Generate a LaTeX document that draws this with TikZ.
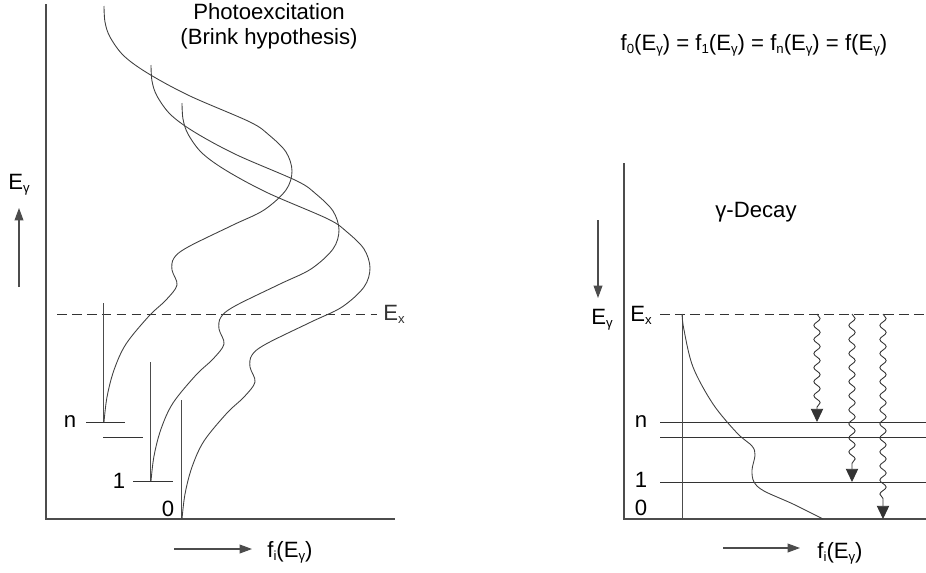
\documentclass[tikz,border=0pt]{standalone}
\usepackage{fontspec}
\setmainfont{Liberation Sans}
\usetikzlibrary{arrows.meta,decorations.pathmorphing}

\newcommand{\sbs}[1]{\raisebox{-1.8pt}{\fontsize{7.5}{8}\selectfont #1}}

\begin{document}
\begin{tikzpicture}[x=0.02cm, y=-0.02cm, >={Triangle[length=7pt,width=5pt]},
		font=\fontsize{12.6}{14.2}\selectfont,
		axis/.style={black!70, line width=0.6pt},
		curve/.style={black!75, line width=0.5pt},
		level/.style={black!80, line width=0.55pt},
		excite/.style={black!80, line width=0.55pt, dash pattern=on 5.5pt off 3pt},
		gamma/.style={black!80, line width=0.5pt, -{Triangle[length=7.5pt,width=7pt]},
			decorate, decoration={snake, amplitude=1.8pt, segment length=8pt, post length=8pt}}]
		\useasboundingbox (0,0) rectangle (926,572);

		% Photoexcitation panel
		\draw[axis] (46,4) -- (46,519) -- (395,519);
		\node (titleA) at (269,26) [align=center] {Photoexcitation\\(Brink hypothesis)};
		\node (EgA) at (19,185) {E\sbs{γ}};
		\coordinate (upA) at (19,287);
		\coordinate (upB) at (19,208);
		\draw[axis, ->] (upA) -- (upB);
		\draw[excite] (57,314) -- (377,314) node[right] (ExA) {E\sbs{x}};

		% levels
		\node (nA) at (70,422) {n};
		\draw[level] (86,422) -- (125,422);
		\draw[level] (103,437) -- (143,437);
		\node (oneA) at (119,481) {1};
		\draw[level] (133,481) -- (173,481);
		\node (zeroA) at (168,509) {0};

		% strength functions on top of each level
		\foreach \bx/\by in {104/422, 151/481, 182/519} {
			\draw[axis, line width=0.5pt] (\bx-1,\by) -- (\bx-1,\by-119);
			\draw[curve, shift={(\bx,\by)}] plot[smooth, tension=0.55] coordinates {
				(0,0) (3,-25) (10,-52) (22,-78) (45,-106) (62,-122) (73,-137) (68,-152)
				(70,-164) (84,-175) (129,-197) (160,-212) (182,-232) (188,-251)
				(182,-270) (165,-287) (146,-300) (86,-326) (45,-348) (20,-366)
				(6,-385) (1,-400) (0,-416)};
		}

		\coordinate (fA) at (174,549);
		\coordinate (fB) at (252,549);
		\draw[axis, ->] (fA) -- (fB);
		\node (fiA) at (290,552) {f\sbs{i}(E\sbs{γ})};

		% Decay panel
		\node (brink) at (754,45) {f\sbs{0}(E\sbs{γ}) = f\sbs{1}(E\sbs{γ}) = f\sbs{n}(E\sbs{γ}) = f(E\sbs{γ})};
		\draw[axis] (624,163) -- (624,519) -- (926,519);
		\node (titleB) at (756,212) {γ-Decay};
		\coordinate (dnA) at (598,220);
		\coordinate (dnB) at (598,298);
		\draw[axis, ->] (dnA) -- (dnB);
		\node (EgB) at (602,320) {E\sbs{γ}};
		\node (ExB) at (641,315) {E\sbs{x}};
		\draw[excite] (660,314) -- (926,314);
		\node (nB) at (641,422) {n};
		\node (oneB) at (641,480) {1};
		\node (zeroB) at (641,508) {0};
		\draw[level] (660,422) -- (926,422);
		\draw[level] (660,437) -- (926,437);
		\draw[level] (660,482) -- (926,482);
		\draw[axis, line width=0.5pt] (682,314) -- (682,519);
		\draw[curve] plot[smooth, tension=0.55] coordinates {
			(682,314) (684,330) (693,367) (713,404) (737,433) (752,446) (755,455)
			(752,470) (754,482) (764,491) (793,504) (823,519)};

		% gamma transitions
		\coordinate (g1) at (817,314);
		\coordinate (g2) at (852,314);
		\coordinate (g3) at (883,314);
		\draw[gamma] (g1) -- (817,422);
		\draw[gamma] (g2) -- (852,482);
		\draw[gamma] (g3) -- (883,519);

		\coordinate (fC) at (723,548);
		\coordinate (fD) at (800,548);
		\draw[axis, ->] (fC) -- (fD);
		\node (fiB) at (840,553) {f\sbs{i}(E\sbs{γ})};
	\end{tikzpicture}
\end{document}
